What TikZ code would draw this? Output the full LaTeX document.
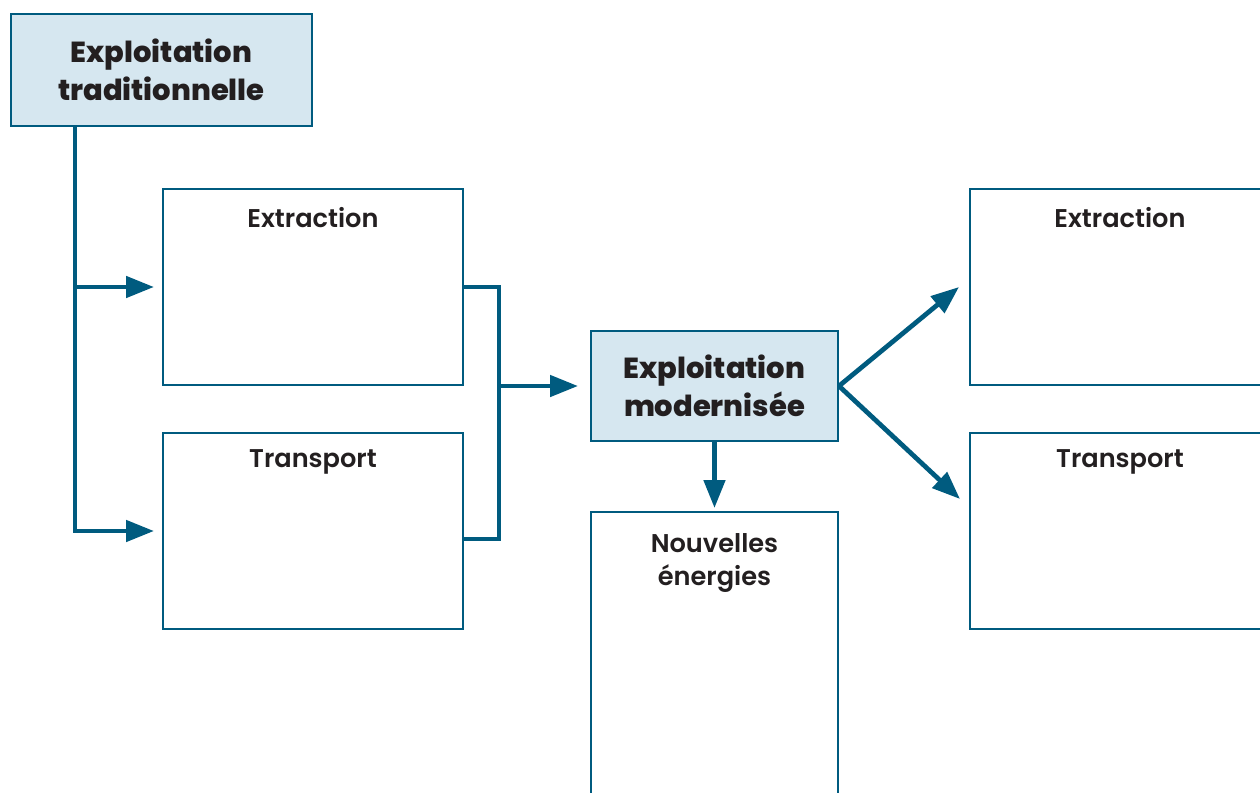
\documentclass[tikz,border=0pt]{standalone}
\usepackage{fontspec}
\setmainfont{Poppins}
\newfontfamily\medfont{Poppins SemiBold}
\newfontfamily\headfont{Poppins ExtraBold}
\usetikzlibrary{arrows.meta}
\definecolor{bordblue}{HTML}{005B7F}
\definecolor{fillblue}{HTML}{D6E7F0}
\definecolor{inkgrey}{HTML}{231F20}
\tikzstyle{box}=[rectangle, draw=bordblue, fill=white, line width=1.15pt, inner sep=0pt, anchor=north west]
\tikzstyle{keybox}=[box, fill=fillblue, text=inkgrey, font=\headfont\fontsize{16.5}{21.5}\selectfont, align=center]
\tikzstyle{annot}=[text=inkgrey, font=\medfont\fontsize{14.6}{18.7}\selectfont, align=center, inner sep=0pt]
\tikzstyle{link}=[draw=bordblue, line width=2.7pt]
\tikzstyle{arr}=[link, -{Triangle[length=0.56cm, width=0.42cm]}]

\begin{document}
\begin{tikzpicture}[x=0.02cm, y=-0.02cm]
  \useasboundingbox (0,0) rectangle (1260,792);
  \clip (0,0) rectangle (1260,792);

  % left column
  \node[keybox, minimum width=6.02cm, minimum height=2.24cm] (trad) at (10,13) {Exploitation\\traditionnelle};
  \node[box, minimum width=6cm, minimum height=3.92cm] (extr1) at (162,188) {};
  \node[box, minimum width=6cm, minimum height=3.92cm] (trans1) at (162,432) {};
  \node[annot, anchor=base] (extr1txt) at ([yshift=-0.78cm]extr1.north) {Extraction};
  \node[annot, anchor=base] (trans1txt) at ([yshift=-0.7cm]trans1.north) {Transport};

  % middle column
  \node[keybox, minimum width=4.94cm, minimum height=2.2cm] (modern) at (590,330) {Exploitation\\modernisée};
  \node[box, minimum width=4.94cm, minimum height=6.4cm] (nouv) at (590,511) {};
  \node[annot, anchor=north] (nouvtxt) at ([yshift=-0.44cm]nouv.north) {Nouvelles\\énergies};

  % right column
  \node[box, minimum width=6cm, minimum height=3.92cm] (extr2) at (969,188) {};
  \node[box, minimum width=6cm, minimum height=3.92cm] (trans2) at (969,432) {};
  \node[annot, anchor=base] (extr2txt) at ([yshift=-0.78cm]extr2.north) {Extraction};
  \node[annot, anchor=base] (trans2txt) at ([yshift=-0.7cm]trans2.north) {Transport};

  % connectors
  \coordinate (trunk) at ([xshift=1.3cm]trad.south west);
  \draw[arr] (trunk) |- ([xshift=-0.16cm]trans1.west);
  \draw[arr] (trunk |- extr1.west) -- ([xshift=-0.16cm]extr1.west);

  \coordinate (join) at ([xshift=0.7cm]extr1.east);
  \draw[link] (extr1.east) -- (join) |- ([yshift=-0.16cm]trans1.east);
  \draw[arr] (join |- modern.west) -- ([xshift=-0.24cm]modern.west);

  \draw[arr] (modern.south) -- ([yshift=0.06cm]nouv.north);
  \draw[arr] (modern.east) -- ([xshift=-0.2cm]extr2.west);
  \draw[arr] (modern.east) -- ([xshift=-0.18cm, yshift=0.64cm]trans2.west);
\end{tikzpicture}
\end{document}
